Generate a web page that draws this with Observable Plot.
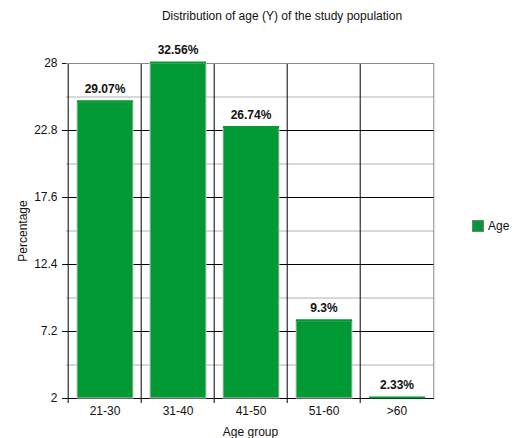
<!DOCTYPE html>
<html><head><meta charset="utf-8">
<script src="https://cdn.jsdelivr.net/npm/d3@7"></script>
<script src="https://cdn.jsdelivr.net/npm/@observablehq/plot@0.6"></script>
<style>
body{margin:0;background:#fff;font-family:"Liberation Sans",Arial,sans-serif;}
#wrap{position:relative;width:512px;height:438px;}
#title{position:absolute;left:0;width:512px;top:9px;text-align:center;font-size:12px;color:#111;padding-left:52px;box-sizing:border-box;}
#legend{position:absolute;left:472px;top:219px;font-size:12px;color:#111;display:flex;align-items:center;}
#legend span.sw{display:inline-block;width:12px;height:12px;background:#009933;border:1px solid #7a7a7a;box-sizing:border-box;margin-right:4px;}
</style></head>
<body><div id="wrap"><div id="title">Distribution of age (Y) of the study population</div><div id="legend"><span class="sw"></span>Age</div></div>
<script>
const groups = ["21-30","31-40","41-50","51-60",">60"];
const counts = [25, 28, 23, 8, 2];
const labels = ["29.07%","32.56%","26.74%","9.3%","2.33%"];
const yTicks = [2, 7.2, 12.4, 17.6, 22.8, 28];
const yMinor = [4.6, 9.8, 15, 20.2, 25.4];

const data = groups.map((g, i) => ({group: g, count: counts[i], label: labels[i]}));
const W = 512, ML = 66, MR = 78;
const bw = (W - ML - MR) / groups.length;

const chart = Plot.plot({
  width: W, height: 438,
  marginLeft: ML, marginRight: MR, marginTop: 63, marginBottom: 40,
  style: {fontFamily: "Liberation Sans, Arial, sans-serif", fontSize: "12px", color: "#111", background: "#fff"},
  x: {domain: groups, padding: 0},
  y: {domain: [2, 28]},
  marks: [
    Plot.ruleY(yMinor, {stroke: "#b0b0b0", strokeWidth: 1}),
    Plot.ruleY(yTicks.slice(1, -1), {stroke: "#000", strokeWidth: 1}),
    Plot.ruleX(groups, {x: d => d, dx: -bw / 2, stroke: "#000", insetBottom: -5}),
    Plot.ruleX([groups[groups.length - 1]], {x: d => d, dx: bw / 2, stroke: "#888"}),
    Plot.ruleY([28], {stroke: "#888"}),
    Plot.ruleY([2], {stroke: "#000"}),
    Plot.barY(data, {x: "group", y1: 2, y2: "count", fill: "#009933", stroke: "#c8c8c8", strokeWidth: 1, insetLeft: 9, insetRight: 8}),
    Plot.tickY(data, {x: "group", y: "count", stroke: "#009933", strokeWidth: 2, dy: -1, insetLeft: 9, insetRight: 8}),
    Plot.text(data, {x: "group", y: "count", text: "label", dy: -13, fontWeight: "bold", fontSize: 12}),
    Plot.axisY({ticks: yTicks, tickFormat: d => String(d), tickSize: 4, label: "Percentage", labelArrow: "none", labelAnchor: "center", labelOffset: 48, fontSize: 12}),
    Plot.axisX({tickSize: 0, tickPadding: 8, label: "Age group", labelArrow: "none", labelAnchor: "center", labelOffset: 37, fontSize: 12})
  ]
});
document.getElementById("wrap").prepend(chart);
chart.style.position = "absolute"; chart.style.left = "0"; chart.style.top = "0";
</script></body></html>
